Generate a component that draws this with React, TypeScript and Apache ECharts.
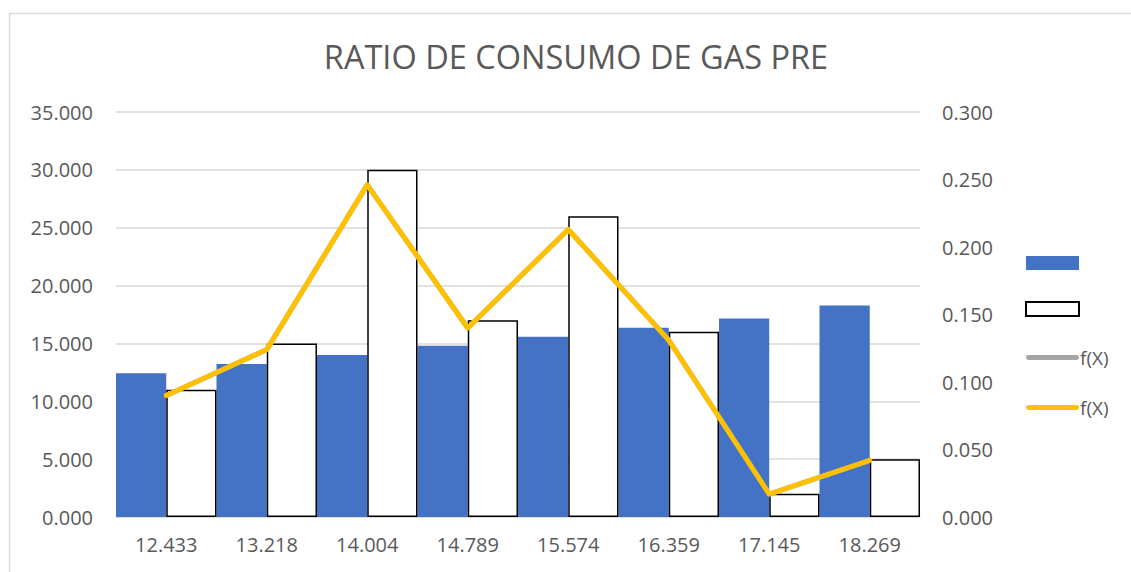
import React, { useEffect, useRef } from "react";
import * as echarts from "echarts";

const categories = ["12.433", "13.218", "14.004", "14.789", "15.574", "16.359", "17.145", "18.269"];
const blueValues = [12.433, 13.218, 14.004, 14.789, 15.574, 16.359, 17.145, 18.269];
const whiteValues = [11, 15, 30, 17, 26, 16, 2, 5];
const grayLine = [0.090, 0.124, 0.246, 0.140, 0.213, 0.131, 0.017, 0.042];
const yellowLine = [0.090, 0.124, 0.246, 0.140, 0.213, 0.131, 0.017, 0.042];
const titleText = "RATIO DE CONSUMO DE GAS PRE";

const FONT = "'Open Sans', sans-serif";
const TXT = "#595959";
const LINE_ICON = "path://M2.5,0h49a2.5,2.5 0 0 1 0,5h-49a2.5,2.5 0 0 1 0,-5z";

export default function App() {
  const ref = useRef<HTMLDivElement>(null);
  useEffect(() => {
    if (!ref.current) return;
    const chart = echarts.init(ref.current, null, { renderer: "svg" });
    chart.setOption({
      animation: false,
      backgroundColor: "#ffffff",
      textStyle: { fontFamily: FONT },
      title: {
        text: titleText,
        left: 571,
        top: 35,
        textAlign: "center",
        textStyle: { fontFamily: FONT, fontSize: 32.5, fontWeight: "normal", color: TXT },
      },
      graphic: [
        {
          type: "rect",
          shape: { x: 9.5, y: 13.5, width: 1300, height: 700 },
          style: { fill: "none", stroke: "#d9d9d9", lineWidth: 1.5 },
          silent: true,
        },
      ],
      legend: {
        orient: "vertical",
        left: 1020,
        top: 251,
        itemWidth: 53,
        itemHeight: 14,
        itemGap: 31,
        textStyle: { fontFamily: FONT, fontSize: 19, color: TXT, padding: [0, 0, 0, -4] },
        formatter: (name: string) => (name.indexOf("f(X)") === 0 ? "f(X)" : ""),
        data: [
          { name: "s1", icon: "rect" },
          { name: "s2", icon: "rect" },
          { name: "f(X)", icon: LINE_ICON },
          { name: "f(X) ", icon: LINE_ICON },
        ],
      },
      grid: { left: 116, right: 211, top: 112, bottom: 55, containLabel: false },
      xAxis: {
        type: "category",
        data: categories,
        axisLine: { lineStyle: { color: "#d9d9d9", width: 1.5 } },
        axisTick: { show: false },
        axisLabel: { fontFamily: FONT, fontSize: 20, color: TXT, margin: 17 },
      },
      yAxis: [
        {
          type: "value",
          min: 0,
          max: 35,
          interval: 5,
          axisLine: { show: false },
          axisTick: { show: false },
          splitLine: { lineStyle: { color: "#d9d9d9", width: 1.5 } },
          axisLabel: {
            fontFamily: FONT,
            fontSize: 20,
            color: TXT,
            margin: 23,
            formatter: (v: number) => v.toFixed(3),
          },
        },
        {
          type: "value",
          min: 0,
          max: 0.3,
          interval: 0.05,
          axisLine: { show: false },
          axisTick: { show: false },
          splitLine: { show: false },
          axisLabel: {
            fontFamily: FONT,
            fontSize: 20,
            color: TXT,
            margin: 22,
            formatter: (v: number) => v.toFixed(3),
          },
        },
      ],
      series: [
        {
          name: "s1",
          type: "bar",
          data: blueValues,
          barGap: "0%",
          barCategoryGap: "0%",
          itemStyle: { color: "#4472C4" },
        },
        {
          name: "s2",
          type: "bar",
          data: whiteValues,
          barGap: "0%",
          barCategoryGap: "0%",
          itemStyle: { color: "#ffffff", borderColor: "#000000", borderWidth: 1.5 },
        },
        {
          name: "f(X)",
          type: "line",
          yAxisIndex: 1,
          data: grayLine,
          symbol: "none",
          lineStyle: { color: "#A5A5A5", width: 5 },
          itemStyle: { color: "#A5A5A5" },
        },
        {
          name: "f(X) ",
          type: "line",
          yAxisIndex: 1,
          data: yellowLine,
          symbol: "none",
          lineStyle: { color: "#FFC000", width: 5, join: "round", cap: "round" },
          itemStyle: { color: "#FFC000" },
        },
      ],
    });
    return () => chart.dispose();
  }, []);
  return (
    <div
      ref={ref}
      style={{ position: "absolute", left: 0, top: 0, width: 1131, height: 572 }}
    />
  );
}
